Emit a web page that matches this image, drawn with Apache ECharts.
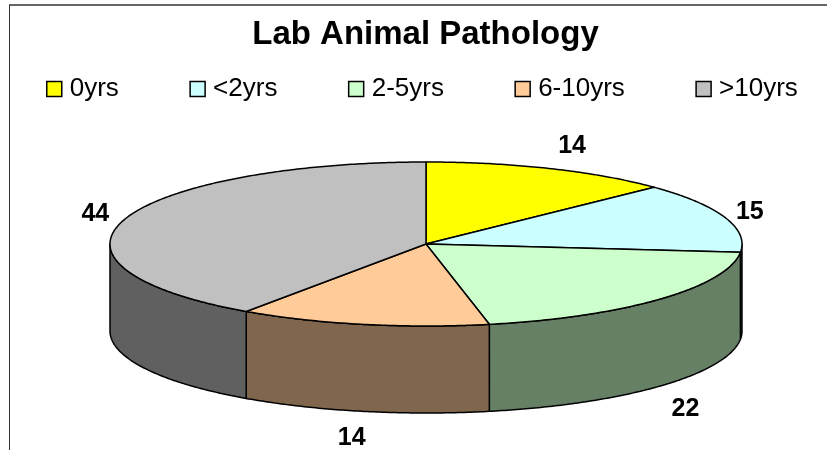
<!DOCTYPE html>
<html>
<head>
<meta charset="utf-8">
<style>html,body{margin:0;background:#fff}#main{width:827px;height:450px}</style>
<script src="https://cdn.jsdelivr.net/npm/echarts@6/dist/echarts.min.js"></script>
</head>
<body>
<div id="main"></div>
<script>
const categories = ['0yrs', '<2yrs', '2-5yrs', '6-10yrs', '>10yrs']
const values = [14, 15, 22, 14, 44]
const topColors = ['#FFFF00', '#CCFFFF', '#CCFFCC', '#FFCC99', '#C0C0C0']
const wallColors = ['#808000', '#668080', '#668066', '#80664C', '#606060']

// flattened pie geometry
const cx = 426, cy = 244, rx = 316, ry = 82, depth = 87
const labelFont = 'bold 25px "Liberation Sans"'
// label shift from the rim point at the middle of each slice
const labelShift = [[22, -22], [25, -5], [25, 23], [-11, 27], [-29, -5]]

const total = values.reduce((a, b) => a + b, 0)
const toAngle = v => v / total * Math.PI * 2

function rim(a, dy) {
  return [cx + rx * Math.sin(a), cy - ry * Math.cos(a) + (dy || 0)]
}

function arc(a0, a1, dy) {
  let pts = []
  let n = Math.max(2, Math.ceil((a1 - a0) / 0.01))
  for (let i = 0; i <= n; i++) {
    pts.push(rim(a0 + (a1 - a0) * i / n, dy))
  }
  return pts
}

function renderSlice(idx) {
  let before = values.slice(0, idx).reduce((a, b) => a + b, 0)
  let a0 = toAngle(before)
  let a1 = toAngle(before + values[idx])
  let children = []
  let style = { stroke: '#000', lineWidth: 1.5, lineJoin: 'round' }

  // only the front half of the rim has a visible wall
  let w0 = Math.max(a0, Math.PI / 2)
  let w1 = Math.min(a1, Math.PI * 1.5)
  if (w1 > w0) {
    children.push({
      type: 'polygon',
      shape: { points: arc(w0, w1, 0).concat(arc(w0, w1, depth).reverse()) },
      style: { fill: wallColors[idx], ...style }
    })
  }
  children.push({
    type: 'polygon',
    shape: { points: [[cx, cy]].concat(arc(a0, a1, 0)) },
    style: { fill: topColors[idx], ...style }
  })

  let mid = (a0 + a1) / 2
  let p = rim(mid, mid > Math.PI / 2 && mid < Math.PI * 1.5 ? depth : 0)
  children.push({
    type: 'text',
    x: p[0] + labelShift[idx][0],
    y: p[1] + labelShift[idx][1],
    style: {
      text: String(values[idx]),
      font: labelFont,
      fill: '#000',
      align: 'center',
      verticalAlign: 'middle'
    }
  })
  return { type: 'group', children: children }
}

const myChart = echarts.init(document.getElementById('main'))

const option = {
  backgroundColor: '#fff',
  animation: false,
  title: {
    text: 'Lab Animal Pathology',
    left: 420.5,
    top: 13,
    textAlign: 'center',
    textStyle: { fontFamily: 'Liberation Sans', fontSize: 33, fontWeight: 'bold', color: '#000' }
  },
  legend: {
    left: 41,
    top: 71,
    icon: 'rect',
    itemWidth: 15,
    itemHeight: 15,
    itemGap: 70.5,
    selectedMode: false,
    itemStyle: { borderColor: '#000', borderWidth: 1.5 },
    textStyle: { fontFamily: 'Liberation Sans', fontSize: 26, color: '#000', padding: [0, 0, 0, 3] },
    data: categories
  },
  graphic: [
    { type: 'line', silent: true, shape: { x1: 9.5, y1: 5, x2: 9.5, y2: 450 }, style: { stroke: '#333', lineWidth: 1 } },
    { type: 'line', silent: true, shape: { x1: 9, y1: 5, x2: 827, y2: 5 }, style: { stroke: '#333', lineWidth: 1.5 } }
  ],
  series: categories.map((name, i) => ({
    type: 'custom',
    name: name,
    coordinateSystem: 'none',
    silent: true,
    clip: false,
    itemStyle: { color: topColors[i] },
    data: [values[i]],
    renderItem: () => renderSlice(i)
  }))
}

myChart.setOption(option)
</script>
</body>
</html>
